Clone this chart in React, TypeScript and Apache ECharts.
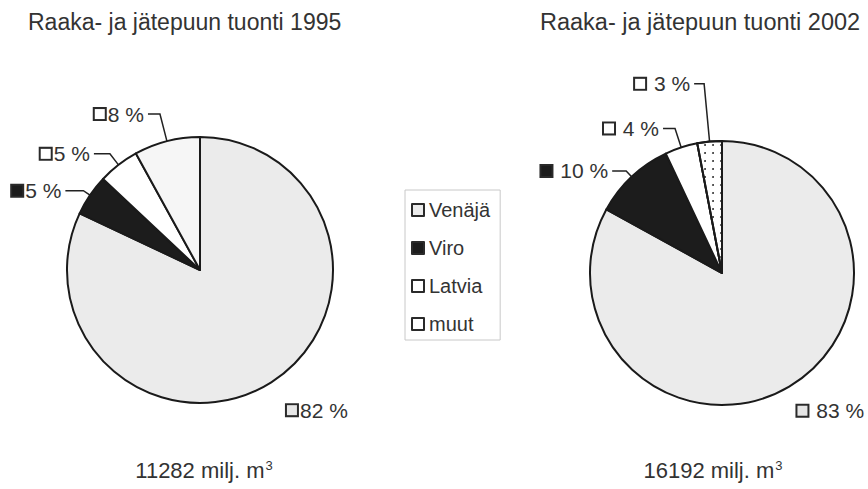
import React, { useEffect, useRef } from 'react';
import * as echarts from 'echarts';

// ---- data ----
const categories = ['Venäjä', 'Viro', 'Latvia', 'muut'];
const share1995 = [82, 5, 5, 8];
const share2002 = [83, 10, 4, 3];
const titles = ['Raaka- ja jätepuun tuonti 1995', 'Raaka- ja jätepuun tuonti 2002'];
const totals = ['11282', '16192'];
const unitText = 'milj. m';
const unitSup = '3';

// ---- styles ----
const colors = ['#ebebeb', '#1c1c1c', '#ffffff', '#f6f6f6'];
const keys = ['a', 'b', 'c', 'd'];
const FONT = '"Liberation Sans", Arial, sans-serif';
const TEXT = '#333333';
// [length, length2] of leader lines per slice
const lens1995 = [[33, 0], [8, 18], [14, 16], [28, 12]];
const lens2002 = [[28, 0], [8, 14], [20, 12], [58, 10]];

const dotDecal = {
  symbol: 'circle',
  symbolSize: 0.9,
  color: '#222222',
  dashArrayX: [2, 6],
  dashArrayY: [2, 6],
};

function boxRich() {
  const r: any = {};
  keys.forEach((k, i) => {
    r[k] = {
      width: 10,
      height: 10,
      borderColor: '#2a2a2a',
      borderWidth: 2,
      backgroundColor: colors[i] === '#1c1c1c' ? '#1c1c1c' : (i === 0 ? '#e6e6e6' : '#ffffff'),
    };
  });
  return r;
}

function makeSeries(values: number[], center: number[], radius: number, lens: number[][], gap: string, muutDecal: boolean, bigDx: number) {
  return {
    type: 'pie',
    center,
    radius,
    startAngle: 90,
    clockwise: true,
    silent: true,
    emphasis: { disabled: true },
    itemStyle: { borderColor: '#1a1a1a', borderWidth: 2 },
    label: {
      position: 'outside',
      overflow: 'none',
      fontFamily: FONT,
      fontSize: 21,
      color: TEXT,
      distanceToLabelLine: 4,
      formatter: (p: any) => `{${keys[p.dataIndex]}|}{t|${gap}${p.value} %}`,
      rich: {
        ...boxRich(),
        t: { fontFamily: FONT, fontSize: 21, color: TEXT, padding: [0, 0, 0, 3] },
      },
    },
    labelLayout: (p: any) => (p.dataIndex === 0 ? { dx: bigDx } : {}),
    labelLine: { smooth: false, lineStyle: { color: '#222222', width: 1.5 } },
    data: categories.map((name, i) => ({
      name,
      value: values[i],
      itemStyle: {
        color: i === 3 && muutDecal ? '#ffffff' : colors[i],
        ...(i === 3 && muutDecal ? { decal: dotDecal } : {}),
      },
      labelLine: { show: i !== 0, length: lens[i][0], length2: lens[i][1] },
    })),
  };
}

export default function App() {
  const ref = useRef<HTMLDivElement>(null);
  useEffect(() => {
    document.body.style.margin = '0';
    const chart = echarts.init(ref.current!, null, { renderer: 'svg' });
    const supRich = {
      n: { fontFamily: FONT, fontSize: 22, fill: TEXT },
      s: { fontFamily: FONT, fontSize: 13, fill: TEXT, verticalAlign: 'top', padding: [0, 0, 10, 1] },
    };
    const titleStyle = { fontFamily: FONT, fontSize: 23, fontWeight: 'normal', color: TEXT };
    chart.setOption({
      animation: false,
      backgroundColor: '#ffffff',
      title: [
        { text: titles[0], left: 23, top: 5, textStyle: titleStyle },
        { text: titles[1], left: 535, top: 5, textStyle: { ...titleStyle, fontSize: 23.5 } },
      ],
      legend: {
        orient: 'vertical',
        left: 405,
        top: 190,
        padding: [10, 10, 6, 6],
        itemGap: 18,
        itemWidth: 12,
        itemHeight: 12,
        icon: 'rect',
        borderColor: '#c8c8c8',
        borderWidth: 1,
        textStyle: { fontFamily: FONT, fontSize: 20, color: TEXT },
        data: categories.map((name, i) => ({
          name,
          itemStyle: {
            color: i === 3 ? '#ffffff' : colors[i],
            borderColor: '#2a2a2a',
            borderWidth: 2,
          },
        })),
      },
      series: [
        makeSeries(share1995, [200, 270], 133, lens1995, '', false, -6),
        makeSeries(share2002, [722, 273], 132, lens2002, ' ', true, -10),
      ],
      graphic: [
        {
          type: 'text',
          x: 204,
          y: 470,
          style: { text: `{n|${totals[0]} ${unitText}}{s|${unitSup}}`, rich: supRich, align: 'center', verticalAlign: 'middle' },
        },
        {
          type: 'text',
          x: 713,
          y: 470,
          style: { text: `{n|${totals[1]} ${unitText}}{s|${unitSup}}`, rich: supRich, align: 'center', verticalAlign: 'middle' },
        },
      ],
    });
    return () => chart.dispose();
  }, []);
  return <div ref={ref} style={{ width: 868, height: 489 }} />;
}
